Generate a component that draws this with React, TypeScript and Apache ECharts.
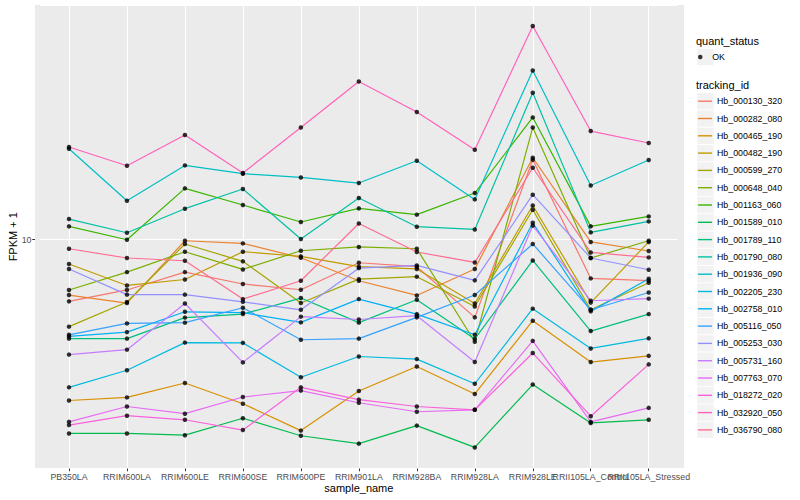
import React, { useEffect, useRef } from "react";
import * as echarts from "echarts";

const categories = [
  "PB350LA", "RRIM600LA", "RRIM600LE", "RRIM600SE", "RRIM600PE", "RRIM901LA",
  "RRIM928BA", "RRIM928LA", "RRIM928LE", "RRII105LA_Control", "RRII105LA_Stressed",
];

const trackingIds = [
  "Hb_000130_320", "Hb_000282_080", "Hb_000465_190", "Hb_000482_190", "Hb_000599_270",
  "Hb_000648_040", "Hb_001163_060", "Hb_001589_010", "Hb_001789_110", "Hb_001790_080",
  "Hb_001936_090", "Hb_002205_230", "Hb_002758_010", "Hb_005116_050", "Hb_005253_030",
  "Hb_005731_160", "Hb_007763_070", "Hb_018272_020", "Hb_032920_050", "Hb_036790_080",
];

const palette = [
  "#F8766D", "#EA8331", "#D89000", "#C09B00", "#A3A500", "#7CAE00", "#39B600", "#00BB4E",
  "#00BF7D", "#00C1A3", "#00BFC4", "#00BAE0", "#00B0F6", "#35A2FF", "#9590FF", "#C77CFF",
  "#E76BF3", "#FA62DB", "#FF62BC", "#FF6C91",
];

// FPKM + 1 per sample, one array per tracking_id
const hb000130_320 = [6.23, 6.80, 7.80, 7.12, 6.81, 8.38, 8.13, 5.51, 18.48, 7.43, 7.30];
const hb000282_080 = [6.54, 6.15, 9.92, 9.72, 8.71, 7.30, 6.52, 7.99, 18.76, 9.83, 9.17];
const hb000465_190 = [2.91, 2.98, 3.33, 2.84, 2.31, 3.13, 3.78, 3.06, 5.37, 3.91, 4.10];
const hb000482_190 = [8.30, 7.04, 7.37, 9.12, 8.80, 8.13, 7.99, 6.13, 13.01, 6.17, 9.83];
const hb000599_270 = [5.13, 6.20, 9.68, 8.47, 6.15, 7.39, 7.53, 5.99, 12.59, 5.84, 7.19];
const hb000648_040 = [6.80, 7.80, 9.12, 7.96, 9.19, 9.46, 9.33, 4.57, 23.68, 8.69, 9.92];
const hb001163_060 = [11.08, 10.0, 14.83, 13.05, 11.46, 12.72, 12.12, 14.31, 25.57, 11.08, 11.96];
const hb001589_010 = [2.26, 2.26, 2.23, 2.54, 2.22, 2.09, 2.40, 2.03, 3.29, 2.45, 2.51];
const hb001789_110 = [4.68, 4.68, 5.50, 5.65, 6.39, 5.29, 6.31, 4.67, 8.53, 4.96, 5.65];
const hb001790_080 = [11.72, 10.55, 12.69, 14.76, 10.05, 13.77, 11.05, 10.82, 30.90, 10.58, 11.51];
const hb001936_090 = [20.11, 13.49, 17.69, 16.60, 16.13, 15.45, 18.34, 13.63, 36.67, 15.17, 18.44];
const hb002205_230 = [3.22, 3.67, 4.54, 4.53, 3.48, 4.08, 4.00, 3.31, 5.89, 4.34, 4.69];
const hb002758_010 = [4.76, 4.92, 5.75, 5.71, 5.30, 6.34, 5.65, 4.82, 11.39, 5.77, 7.41];
const hb005116_050 = [4.82, 5.26, 5.29, 5.93, 4.64, 4.68, 5.51, 6.54, 9.68, 5.84, 6.67];
const hb005253_030 = [7.99, 6.56, 6.56, 6.21, 5.84, 8.04, 8.21, 7.32, 14.13, 8.69, 7.94];
const hb005731_160 = [4.14, 4.30, 6.13, 3.90, 5.54, 5.42, 5.58, 3.91, 11.14, 6.26, 6.36];
const hb007763_070 = [2.47, 2.78, 2.63, 2.99, 3.14, 2.86, 2.67, 2.71, 4.60, 2.47, 2.75];
const hb018272_020 = [2.41, 2.59, 2.51, 2.32, 3.22, 2.93, 2.78, 2.71, 4.19, 2.58, 3.84];
const hb032920_050 = [20.37, 17.65, 22.34, 16.69, 23.68, 33.70, 26.65, 19.95, 51.56, 23.03, 21.01];
const hb036790_080 = [9.33, 8.69, 8.51, 6.34, 7.30, 11.33, 9.10, 8.40, 17.38, 9.07, 8.73];

const seriesValues = [
  hb000130_320, hb000282_080, hb000465_190, hb000482_190, hb000599_270,
  hb000648_040, hb001163_060, hb001589_010, hb001789_110, hb001790_080,
  hb001936_090, hb002205_230, hb002758_010, hb005116_050, hb005253_030,
  hb005731_160, hb007763_070, hb018272_020, hb032920_050, hb036790_080,
];

const yTickValues = [10];
const quantStatus = ["OK"];

const FONT = "'Liberation Sans', Arial, Helvetica, sans-serif";

export default function App() {
  const ref = useRef<HTMLDivElement>(null);

  useEffect(() => {
    if (!ref.current) return;
    const chart = echarts.init(ref.current, undefined, { renderer: "svg" });

    const all = seriesValues.flat();
    const lmin = Math.log10(Math.min(...all));
    const lmax = Math.log10(Math.max(...all));
    const pad = (lmax - lmin) * 0.05;
    const yMin = Math.pow(10, lmin - pad);
    const yMax = Math.pow(10, lmax + pad);

    const lineSeries = trackingIds.map((name, i) => ({
      name,
      type: "line",
      data: seriesValues[i],
      color: palette[i],
      showSymbol: false,
      symbol: "none",
      lineStyle: { color: palette[i], width: 1.2 },
      z: 2,
      silent: true,
    }));

    const pointData: any[] = [];
    seriesValues.forEach((vals) => {
      vals.forEach((v, j) => pointData.push([categories[j], v]));
    });

    const keyTop = 92.55;
    const keyStep = 17.3;
    const keyBgs = trackingIds.map((_, i) => ({
      type: "rect",
      z: -10,
      shape: { x: 697.3, y: keyTop + i * keyStep + 0.5, width: 16.3, height: 16.3 },
      style: { fill: "#F2F2F2" },
    }));

    chart.setOption({
      animation: false,
      textStyle: { fontFamily: FONT },
      grid: { left: 40, right: 122.3, top: 5, bottom: 31.5, outerBoundsMode: "none" },
      graphic: [
        {
          type: "rect",
          z: -20,
          shape: { x: 35, y: 5, width: 649, height: 463 },
          style: { fill: "#EBEBEB" },
        },
        {
          type: "rect",
          z: -10,
          shape: { x: 697.3, y: 48.85, width: 16.3, height: 16.3 },
          style: { fill: "#F2F2F2" },
        },
        ...keyBgs,
        {
          type: "text",
          x: 696,
          y: 40.7,
          style: { text: "quant_status", fill: "#000", fontSize: 11, fontFamily: FONT, verticalAlign: "middle" },
        },
        {
          type: "text",
          x: 696,
          y: 85,
          style: { text: "tracking_id", fill: "#000", fontSize: 11, fontFamily: FONT, verticalAlign: "middle" },
        },
      ],
      legend: [
        {
          data: quantStatus.map((n) => ({ name: n, icon: "circle" })),
          orient: "vertical",
          left: 698,
          top: 48.35,
          padding: 0,
          itemGap: 0,
          itemWidth: 14,
          itemHeight: 4.5,
          selectedMode: false,
          textStyle: { fontSize: 8.8, color: "#000", fontFamily: FONT, lineHeight: 17.3 },
        },
        {
          data: trackingIds.map((n) => ({ name: n, icon: "rect" })),
          orient: "vertical",
          left: 698,
          top: keyTop,
          padding: 0,
          itemGap: 0,
          itemWidth: 14,
          itemHeight: 1.4,
          selectedMode: false,
          textStyle: { fontSize: 8.8, color: "#000", fontFamily: FONT, lineHeight: 17.3 },
        },
      ],
      xAxis: {
        type: "category",
        data: categories,
        boundaryGap: true,
        name: "sample_name",
        nameLocation: "middle",
        nameGap: 14,
        nameMoveOverlap: false,
        nameTextStyle: { fontSize: 11, color: "#000", fontFamily: FONT },
        axisLine: { show: false },
        axisTick: { show: true, alignWithLabel: true, length: 2.75, lineStyle: { color: "#333333", width: 1 } },
        axisLabel: { interval: 0, fontSize: 8.8, color: "#4D4D4D", margin: 4, fontFamily: FONT },
        splitLine: { show: true, alignWithLabel: true, lineStyle: { color: "#FFFFFF", width: 1.1 } },
      },
      yAxis: {
        type: "log",
        logBase: 10,
        min: yMin,
        max: yMax,
        offset: 5,
        name: "FPKM + 1",
        nameLocation: "middle",
        nameRotate: 90,
        nameGap: 16.5,
        nameMoveOverlap: false,
        nameTextStyle: { fontSize: 11, color: "#000", fontFamily: FONT },
        axisLine: { show: false },
        axisTick: { show: true, length: 2.75, lineStyle: { color: "#333333", width: 1 } },
        axisLabel: {
          fontSize: 8.8,
          color: "#4D4D4D",
          margin: 3.5,
          fontFamily: FONT,
          showMinLabel: false,
          showMaxLabel: false,
          formatter: (v: number) =>
            yTickValues.some((t) => Math.abs(t - v) < 1e-6) ? String(Math.round(v)) : "",
        },
        splitLine: { show: true, lineStyle: { color: "#FFFFFF", width: 1.1 } },
      },
      series: [
        ...lineSeries,
        {
          name: quantStatus[0],
          type: "scatter",
          data: pointData,
          symbol: "circle",
          symbolSize: 4.5,
          itemStyle: { color: "#000000" },
          z: 5,
          silent: true,
        },
      ],
    });

    return () => chart.dispose();
  }, []);

  return (
    <div
      ref={ref}
      style={{ position: "absolute", left: 0, top: 0, width: 800, height: 500, background: "#FFFFFF" }}
    />
  );
}
